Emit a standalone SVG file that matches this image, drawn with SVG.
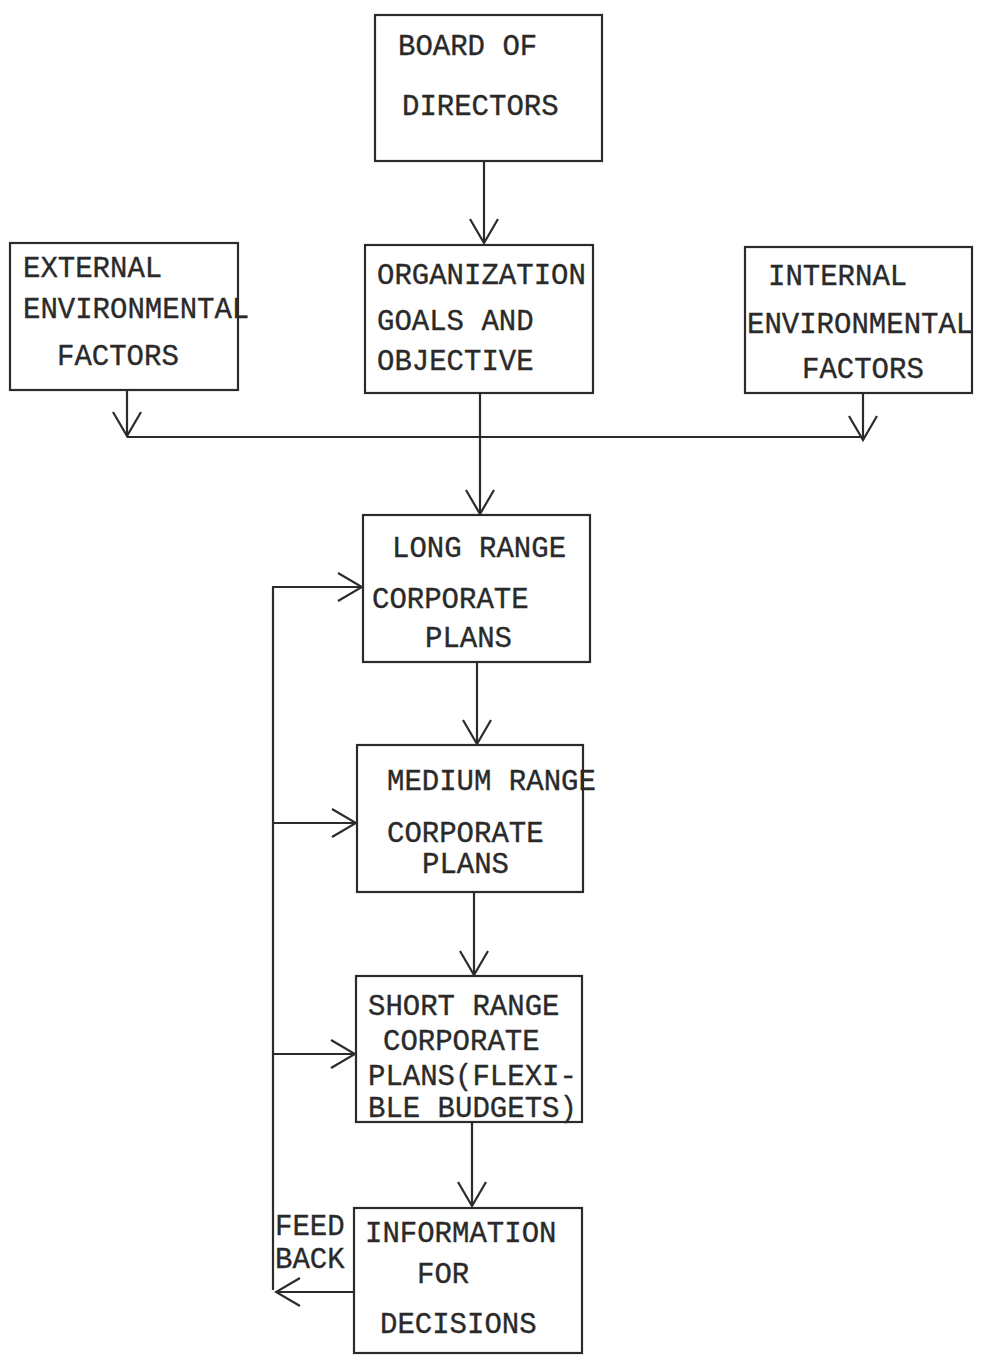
<svg xmlns="http://www.w3.org/2000/svg" width="983" height="1361" viewBox="0 0 983 1361">
  <style>
    .box { fill: none; stroke: #2b2b2b; stroke-width: 2.2; }
    .t { font-family: "Liberation Mono", "Courier New", monospace; font-size: 29px; fill: #2a2a2a; stroke: #2a2a2a; stroke-width: 0.35; }
    .c { fill: none; stroke: #2b2b2b; stroke-width: 2.2; }
  </style>
  <defs>
    <marker id="arr" viewBox="0 0 27 30" refX="25" refY="15" markerWidth="27" markerHeight="30" markerUnits="userSpaceOnUse" orient="auto">
      <path d="M1,1 L25,15 L1,29" fill="none" stroke="#2b2b2b" stroke-width="2.2"/>
    </marker>
  </defs>
  <rect width="983" height="1361" fill="#ffffff"/>

  <g id="board">
    <rect class="box" x="375" y="15" width="227" height="146"/>
    <text class="t" x="398" y="55">BOARD OF</text>
    <text class="t" x="402" y="115">DIRECTORS</text>
  </g>

  <g id="external">
    <rect class="box" x="10" y="243" width="228" height="147"/>
    <text class="t" x="23" y="277">EXTERNAL</text>
    <text class="t" x="23" y="318">ENVIRONMENTAL</text>
    <text class="t" x="57" y="365">FACTORS</text>
  </g>

  <g id="organization">
    <rect class="box" x="365" y="245" width="228" height="148"/>
    <text class="t" x="377" y="284">ORGANIZATION</text>
    <text class="t" x="377" y="330">GOALS AND</text>
    <text class="t" x="377" y="370">OBJECTIVE</text>
  </g>

  <g id="internal">
    <rect class="box" x="745" y="247" width="227" height="146"/>
    <text class="t" x="768" y="285">INTERNAL</text>
    <text class="t" x="747" y="333">ENVIRONMENTAL</text>
    <text class="t" x="802" y="378">FACTORS</text>
  </g>

  <g id="long-range">
    <rect class="box" x="363" y="515" width="227" height="147"/>
    <text class="t" x="392" y="557">LONG RANGE</text>
    <text class="t" x="372" y="608">CORPORATE</text>
    <text class="t" x="425" y="647">PLANS</text>
  </g>

  <g id="medium-range">
    <rect class="box" x="357" y="745" width="226" height="147"/>
    <text class="t" x="387" y="790">MEDIUM RANGE</text>
    <text class="t" x="387" y="842">CORPORATE</text>
    <text class="t" x="422" y="873">PLANS</text>
  </g>

  <g id="short-range">
    <rect class="box" x="356" y="976" width="226" height="146"/>
    <text class="t" x="368" y="1015">SHORT RANGE</text>
    <text class="t" x="383" y="1050">CORPORATE</text>
    <text class="t" x="368" y="1085">PLANS(FLEXI-</text>
    <text class="t" x="368" y="1117">BLE BUDGETS)</text>
  </g>

  <g id="information">
    <rect class="box" x="354" y="1208" width="228" height="145"/>
    <text class="t" x="365" y="1242">INFORMATION</text>
    <text class="t" x="417" y="1283">FOR</text>
    <text class="t" x="380" y="1333">DECISIONS</text>
  </g>

  <g id="feedback-label">
    <text class="t" x="275" y="1235">FEED</text>
    <text class="t" x="275" y="1268">BACK</text>
  </g>

  <g id="connectors">
    <path class="c" d="M484,161 V243" marker-end="url(#arr)"/>
    <path class="c" d="M127,390 V436" marker-end="url(#arr)"/>
    <path class="c" d="M863,393 V440" marker-end="url(#arr)"/>
    <path class="c" d="M127,437 H863"/>
    <path class="c" d="M480,393 V514" marker-end="url(#arr)"/>
    <path class="c" d="M477,662 V744" marker-end="url(#arr)"/>
    <path class="c" d="M474,892 V975" marker-end="url(#arr)"/>
    <path class="c" d="M472,1122 V1206" marker-end="url(#arr)"/>
    <path class="c" d="M354,1292 H276" marker-end="url(#arr)"/>
    <path class="c" d="M273,1290 V587 H362" marker-end="url(#arr)"/>
    <path class="c" d="M273,823 H356" marker-end="url(#arr)"/>
    <path class="c" d="M273,1054 H355" marker-end="url(#arr)"/>
  </g>
</svg>
